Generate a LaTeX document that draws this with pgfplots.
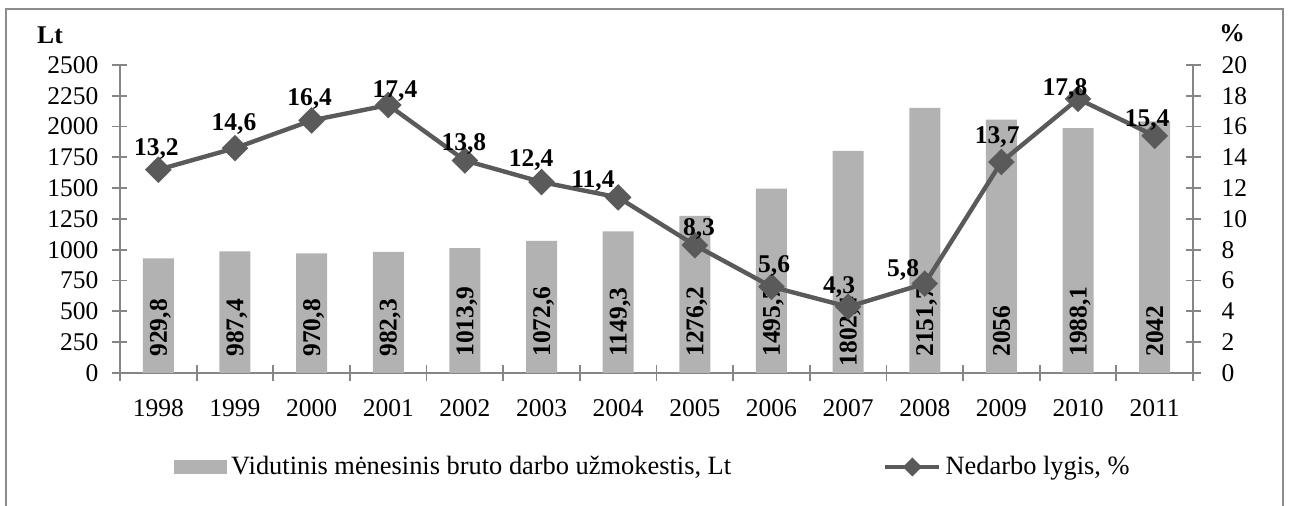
\documentclass[border=0pt]{standalone}
\usepackage{pgfplots}
\pgfplotsset{compat=1.18}
\usepackage{pgfplotstable}
\usepackage{fontspec}
\setmainfont{Liberation Serif}
\definecolor{barc}{HTML}{B2B2B2}
\definecolor{linec}{HTML}{5A5A5A}
\definecolor{axc}{HTML}{868686}
\definecolor{frc}{HTML}{8C8C8C}
\newcommand{\chf}{\fontsize{12.75}{15}\selectfont}
\newcommand{\lgf}{\fontsize{13.2}{15}\selectfont}

\pgfplotstableread{
x wage wl rate rl pos dx dy
0 929.8 929,8 13.2 13,2 130 -1.0 11.5
1 987.4 987,4 14.6 14,6 130 -0.5 13.2
2 970.8 970,8 16.4 16,4 130 -1.0 11.7
3 982.3 982,3 17.4 17,4 130 3.4 8.0
4 1013.9 1013,9 13.8 13,8 130 -0.5 9.0
5 1072.6 1072,6 12.4 12,4 130 -5.2 12.0
6 1149.3 1149,3 11.4 11,4 130 -12.6 9.2
7 1276.2 1276,2 8.3 8,3 130 2.1 9.1
8 1495.7 1495,7 5.6 5,6 130 1.3 11.4
9 1802.4 1802,4 4.3 4,3 50 -4.5 10.9
10 2151.7 2151,7 5.8 5,8 130 -10.8 7.8
11 2056 2056 13.7 13,7 130 -2.1 13.5
12 1988.1 1988,1 17.8 17,8 130 -6.5 6.0
13 2042 2042 15.4 15,4 130 -3.8 8.9
}\data

\begin{document}
\begin{tikzpicture}[x=1pt,y=1pt]
\path[use as bounding box] (-60,-66.5) rectangle (585.5,186.5);
\draw[frc, line width=1pt] (-57,-90) -- (-57,182) -- (581.5,182) -- (581.5,-90);
\begin{axis}[
  at={(0,0)}, anchor=south west,
  scale only axis, width=536.5pt, height=154pt,
  xmin=-0.5, xmax=13.5, ymin=0, ymax=2500,
  clip=false,
  axis x line*=bottom, axis y line*=left,
  axis line style={axc, line width=0.9pt},
  xtick={0,...,13},
  xticklabels={1998,1999,2000,2001,2002,2003,2004,2005,2006,2007,2008,2009,2010,2011},
  major x tick style={draw=none},
  minor xtick={-0.5,0.5,...,13.5},
  minor x tick style={axc, line width=0.9pt},
  ytick={0,250,...,2500},
  major y tick style={axc, line width=0.9pt},
  tick align=center, major tick length=7.5pt, minor tick length=8pt,
  /pgf/number format/assume math mode=true,
  /pgf/number format/1000 sep={},
  ticklabel style={font=\chf},
  xticklabel style={yshift=-6pt},
  yticklabel style={xshift=-3.5pt},
  every axis y label/.style={at={(axis description cs:0,1)}, anchor=center, xshift=-35pt, yshift=15pt, font=\chf\bfseries},
  ylabel={Lt},
]
\addplot[ybar, bar width=15.5pt, fill=barc, draw=none] table[x=x,y=wage]{\data};
\addplot[draw=none, mark=none, nodes near coords, point meta=explicit symbolic,
  every node near coord/.append style={rotate=90, anchor=west, inner sep=0pt, text depth=0pt, font=\chf\bfseries, text=black}]
  table[x=x,y=pos,meta=wl]{\data};
\end{axis}
\begin{axis}[
  at={(0,0)}, anchor=south west,
  scale only axis, width=536.5pt, height=154pt,
  xmin=-0.5, xmax=13.5, ymin=0, ymax=20,
  clip=false,
  axis x line=none, axis y line*=right,
  axis line style={axc, line width=0.9pt},
  ytick={0,2,...,20},
  major y tick style={axc, line width=0.9pt},
  tick align=center, major tick length=7.5pt,
  /pgf/number format/assume math mode=true,
  ticklabel style={font=\chf},
  yticklabel style={xshift=7pt},
  every axis y label/.style={at={(axis description cs:1,1)}, anchor=center, xshift=19.5pt, yshift=16pt, font=\chf\bfseries},
  ylabel={\%},
  legend columns=2,
  legend style={draw=none, fill=none, at={(0,0)}, anchor=west, xshift=27pt, yshift=-47pt,
    font=\lgf, inner sep=0pt, /tikz/every even column/.append style={column sep=74pt}},
  legend cell align=left,
]
\addlegendimage{legend image code/.code={\fill[barc] (0pt,-3.25pt) rectangle (26pt,3.25pt);}}
\addlegendentry{Vidutinis mėnesinis bruto darbo užmokestis, Lt}
\addplot[linec, line width=2.2pt, mark=square*, mark size=3.6pt, mark options={rotate=45, solid, fill=linec},
  nodes near coords, point meta=explicit symbolic,
  visualization depends on={\thisrow{dx} \as \dx},
  visualization depends on={\thisrow{dy} \as \dy},
  every node near coord/.append style={anchor=center, inner sep=0pt, text depth=0pt, font=\chf\bfseries, text=black, xshift=\dx pt, yshift=\dy pt},
  legend image code/.code={\draw[linec, line width=2.2pt] (0pt,0pt)--(27pt,0pt); \fill[linec] (13.5pt,3.2pt) -- (16.7pt,0pt) -- (13.5pt,-3.2pt) -- (10.3pt,0pt) -- cycle;}]
  table[x=x,y=rate,meta=rl]{\data};
\addlegendentry{Nedarbo lygis, \%}
\end{axis}
\end{tikzpicture}
\end{document}
